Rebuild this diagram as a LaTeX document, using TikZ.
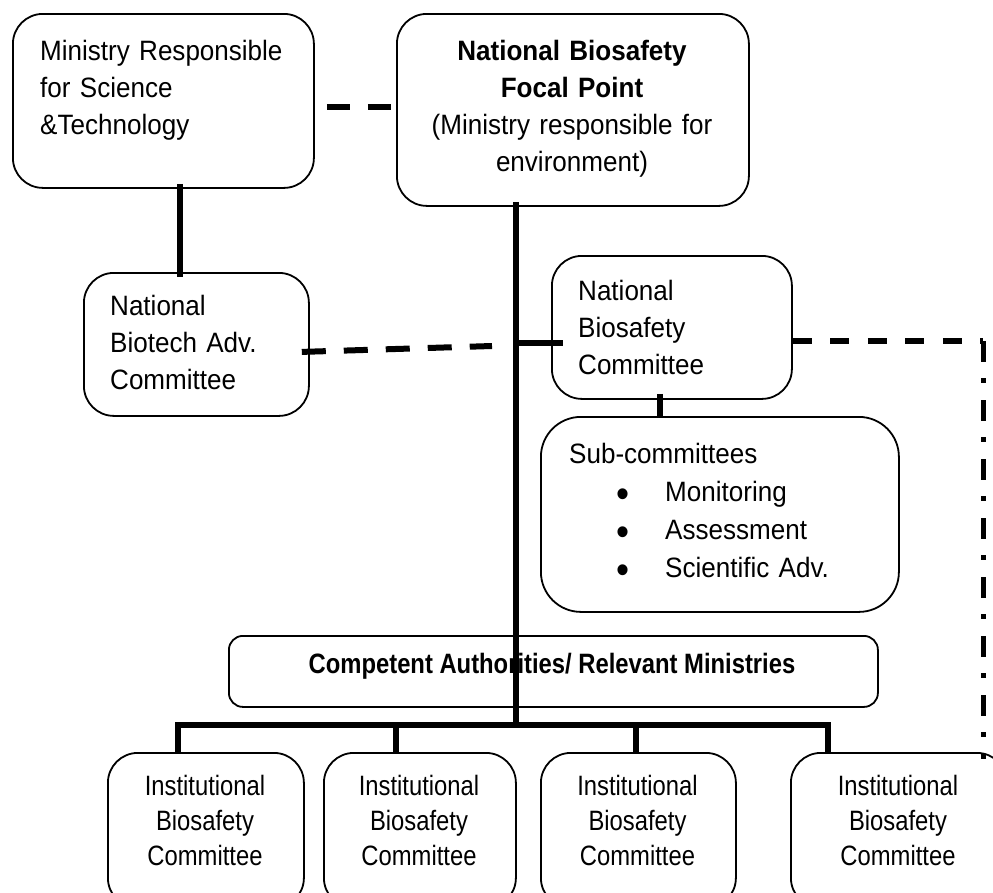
\documentclass[tikz,border=0pt]{standalone}
\usepackage{fontspec}
\setmainfont{Liberation Sans}[FakeStretch=0.93]
\newfontfamily\narrowfont{Liberation Sans}[FakeStretch=0.85]
\begin{document}
\begin{tikzpicture}[x=1pt,y=-1pt,
  box/.style={draw, line width=1.8pt, rounded corners=#1, inner sep=0pt, anchor=north west},
  box/.default=30pt,
  txt/.style={inner sep=0pt, font=\fontsize{28pt}{37pt}\selectfont},
  conn/.style={line width=6pt},
  dashA/.style={line width=6pt, dash pattern=on 23pt off 18pt, dash phase=29pt},
  dashB/.style={line width=6pt, dash pattern=on 24pt off 18pt},
  dashC/.style={line width=6pt, dash pattern=on 19pt off 18.5pt},
  dashdotD/.style={line width=5pt, dash pattern=on 21pt off 16pt on 5pt off 17pt}]
\useasboundingbox (0,0) rectangle (993,892);
\clip (0,0) rectangle (993,892);

% boxes
\node[box, minimum width=301pt, minimum height=174pt] (msb) at (12,13) {};
\node[box, minimum width=352pt, minimum height=192pt] (nbfp) at (396,13) {};
\node[box, minimum width=225pt, minimum height=143pt] (nbac) at (83,272) {};
\node[box, minimum width=240pt, minimum height=143pt] (nbc) at (551,255) {};
\node[box=40pt, minimum width=358pt, minimum height=195pt] (sub) at (540,416) {};
\node[box=14pt, minimum width=649pt, minimum height=71pt] (ca) at (228,635) {};
\node[box, minimum width=196pt, minimum height=155pt] (ibc1) at (107,752) {};
\node[box, minimum width=192pt, minimum height=155pt] (ibc2) at (323,752) {};
\node[box, minimum width=195pt, minimum height=155pt] (ibc3) at (540,752) {};
\node[box, minimum width=216pt, minimum height=155pt] (ibc4) at (790,752) {};

% texts
\node[txt, text width=265pt, align=left, anchor=base west] (msb-t) at (40,60)
  {Ministry Responsible\\for Science\\\&Technology};
\node[txt, text width=352pt, align=center, anchor=base] (nbfp-t) at (572,60)
  {\textbf{National Biosafety}\\\textbf{Focal Point}\\(Ministry responsible for\\environment)};
\node[txt, text width=190pt, align=left, anchor=base west] (nbac-t) at (110,315)
  {National\\Biotech Adv.\\Committee};
\node[txt, text width=200pt, align=left, anchor=base west] (nbc-t) at (578,300)
  {National\\Biosafety\\Committee};
\newcommand\bul{\hspace*{47pt}\makebox[49pt][l]{\raisebox{-6pt}{\fontsize{40pt}{40pt}\selectfont •}}}
\node[txt, font=\fontsize{28pt}{38.3pt}\selectfont, text width=320pt, align=left, anchor=base west] (sub-t) at (569,463)
  {Sub-committees\\
   \bul Monitoring\\
   \bul Assessment\\
   \bul Scientific Adv.};
\node[txt, font=\fontsize{28pt}{37pt}\narrowfont, anchor=base] (ca-t) at (552,673)
  {\textbf{Competent Authorities/ Relevant Ministries}};
\foreach \n/\cx in {1/205,2/419,3/637.5,4/898}{
  \node[txt, font=\fontsize{28pt}{35pt}\narrowfont, text width=200pt, align=center, anchor=base] (ibc\n-t) at (\cx,795)
    {Institutional\\Biosafety\\Committee};
}

% junction coordinates
\coordinate (j1) at (180,0);
\coordinate (j2) at (660,0);
\coordinate (j3) at (0,107);
\coordinate (bus) at (516,725);
\coordinate (s1) at (516,343);
\coordinate (d1) at (178,725);
\coordinate (d2) at (396,725);
\coordinate (d3) at (636,725);
\coordinate (d4) at (828,725);
\coordinate (e2) at (492,346);
\coordinate (corner) at (983,341);
\coordinate (dend) at (983,759);

% solid connectors
\draw[conn, shorten <=-5pt, shorten >=-5pt] (msb.south -| j1) -- (nbac.north -| j1);
\draw[conn, shorten <=-5pt] (nbfp.south -| bus) -- (bus);
\draw[conn] (s1) -- ([xshift=12pt]nbc.west |- s1);
\draw[conn, shorten <=-6pt, shorten >=-2pt] (nbc.south -| j2) -- (sub.north -| j2);
\draw[conn] (d1 |- ibc1.north) -- (d1) -- (d4) -- (d4 |- ibc4.north);
\draw[conn] (d2) -- (d2 |- ibc2.north);
\draw[conn] (d3) -- (d3 |- ibc3.north);

% dashed connectors
\draw[dashA] (msb.east |- j3) -- (nbfp.west |- j3);
\draw[dashB] ([shift={(-8,7.5)}]nbac.east) -- (e2);
\draw[dashC] (nbc.east |- corner) -- (corner);
\draw[dashdotD] (corner) -- (dend);
\end{tikzpicture}
\end{document}
